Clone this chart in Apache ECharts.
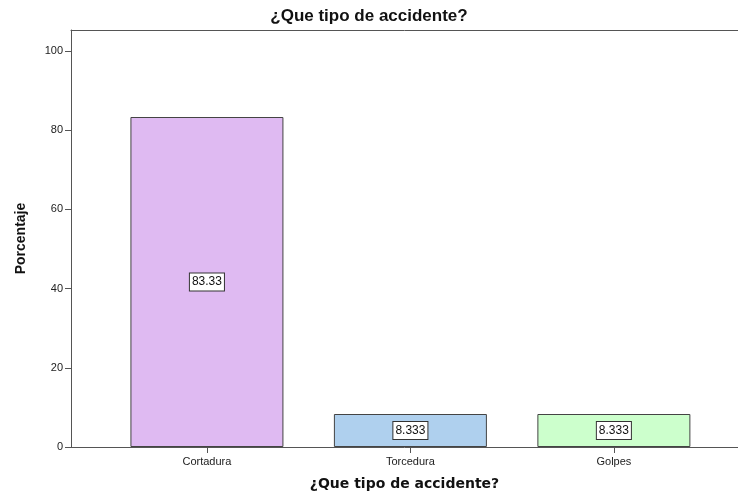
<!DOCTYPE html>
<html>
<head>
<meta charset="utf-8">
<script src="https://cdn.jsdelivr.net/npm/echarts@6/dist/echarts.min.js"></script>
<style>
  html, body { margin: 0; padding: 0; background: #fff; }
  #chart { width: 738px; height: 492px; }
</style>
</head>
<body>
<div id="chart"></div>
<script>
// SPSS-style bar chart: percentage per accident type
const categories = ['Cortadura', 'Torcedura', 'Golpes'];
const percentages = [83.33, 8.333, 8.333];
const barColors = ['#dfbaf2', '#afd0ee', '#ccffcc'];
const yTicks = [0, 20, 40, 60, 80, 100];
const catPositions = [1, 2, 3]; // bar centres on the numeric x scale

const font = 'Liberation Sans, Arial, sans-serif';
const chart = echarts.init(document.getElementById('chart'));

chart.setOption({
  animation: false,
  title: {
    text: '¿Que tipo de accidente?',
    left: 'center',
    top: 3,
    textStyle: { fontFamily: font, fontSize: 17, fontWeight: 'bold', color: '#111' },
  },
  grid: { left: 71, right: 0, top: 30, bottom: 45, outerBoundsMode: 'none', containLabel: false },
  xAxis: [
    {
      type: 'value',
      min: 0.332,
      max: 3.61,
      name: '¿Que tipo de accidente?',
      nameLocation: 'middle',
      nameGap: 30,
      nameTextStyle: { fontFamily: 'DejaVu Sans, sans-serif', fontSize: 14, fontWeight: 'bold', color: '#111' },
      splitLine: { show: false },
      axisLine: { lineStyle: { color: '#555', width: 1 } },
      axisTick: { customValues: catPositions, length: 6, lineStyle: { color: '#555' } },
      axisLabel: {
        customValues: catPositions,
        formatter: (v) => categories[Math.round(v) - 1] || '',
        fontFamily: font, fontSize: 11, color: '#222', margin: 9,
      },
    },
    {
      type: 'value',
      position: 'top',
      min: 0.332,
      max: 3.61,
      splitLine: { show: false },
      axisLine: { show: true, lineStyle: { color: '#555', width: 1 } },
      axisTick: { show: false },
      axisLabel: { show: false },
    },
  ],
  yAxis: {
    type: 'value',
    min: 0,
    max: 105.3,
    name: 'Porcentaje',
    nameLocation: 'middle',
    nameGap: 43,
    nameRotate: 90,
    nameTextStyle: { fontFamily: font, fontSize: 14, fontWeight: 'bold', color: '#111' },
    splitLine: { show: false },
    axisLine: { show: true, lineStyle: { color: '#555', width: 1 } },
    axisTick: { show: true, customValues: yTicks, length: 6, lineStyle: { color: '#555' } },
    axisLabel: { customValues: yTicks, fontFamily: font, fontSize: 11, color: '#222', margin: 8 },
  },
  series: [{
    type: 'bar',
    xAxisIndex: 0,
    barWidth: 153,
    data: percentages.map((v, i) => ({
      value: [catPositions[i], v],
      itemStyle: { color: barColors[i], borderColor: '#444', borderWidth: 1 },
    })),
    label: {
      show: true,
      position: 'inside',
      formatter: (p) => String(p.value[1]),
      fontFamily: font,
      fontSize: 12,
      color: '#111',
      backgroundColor: '#fff',
      borderColor: '#333',
      borderWidth: 1,
      padding: [3, 2, 2, 2],
    },
  }],
});
</script>
</body>
</html>
